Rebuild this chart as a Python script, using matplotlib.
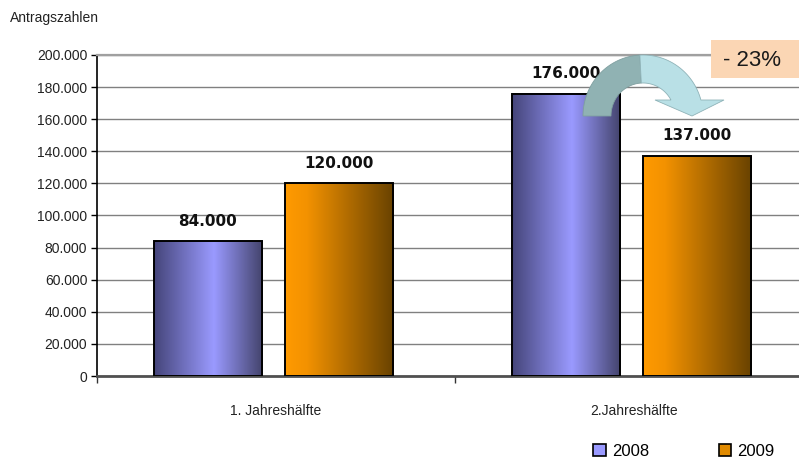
import numpy as np
import matplotlib
matplotlib.use("Agg")
import matplotlib.pyplot as plt
from matplotlib.colors import LinearSegmentedColormap
from matplotlib.patches import Polygon, Rectangle, Patch

categories = ["1. Jahreshälfte", "2.Jahreshälfte"]
series_names = ["2008", "2009"]
values_2008 = [84000, 176000]
values_2009 = [120000, 137000]
y_ticks = [0, 20000, 40000, 60000, 80000, 100000, 120000, 140000, 160000, 180000, 200000]
change_label = "- 23%"
y_title = "Antragszahlen"

plt.rcParams['font.family'] = ['Liberation Sans', 'DejaVu Sans']

def de_fmt(v):
    return f"{v:,.0f}".replace(",", ".")

fig = plt.figure(figsize=(7.99, 4.61), dpi=100)
W, H = 799, 461
ax = fig.add_axes([97 / W, 1 - 376 / H, 1 - 97 / W, (376 - 55) / H])

x = np.arange(len(categories))
bw = 0.302
b1 = ax.bar(x - 0.19, values_2008, bw, edgecolor='black', linewidth=1.4, zorder=3)
b2 = ax.bar(x + 0.175, values_2009, bw, edgecolor='black', linewidth=1.4, zorder=3)

blue_cmap = LinearSegmentedColormap.from_list('b', [(0, '#45457a'), (0.55, '#9a9aff'), (1, '#43436c')])
orange_cmap = LinearSegmentedColormap.from_list('o', [(0, '#ff9a00'), (0.2, '#f39200'), (1, '#684200')])
grad = np.linspace(0, 1, 256).reshape(1, -1)
for bars, cmap in ((b1, blue_cmap), (b2, orange_cmap)):
    for p in bars:
        x0, y0, w, h = p.get_x(), p.get_y(), p.get_width(), p.get_height()
        ax.imshow(grad, extent=[x0, x0 + w, y0, y0 + h], aspect='auto', cmap=cmap,
                  zorder=2.5, interpolation='bilinear')
        p.set_facecolor('none')
        ax.annotate(de_fmt(h), (x0 + w / 2, h), xytext=(0, 14.5), textcoords='offset points',
                    ha='center', va='center', fontsize=11, fontweight='bold', color='#111111',
                    family=['DejaVu Sans'])

ax.set_yticks(y_ticks)
ax.set_yticklabels([de_fmt(v) for v in y_ticks], fontsize=10, color='#222222')
ax.set_xticks(x)
ax.set_xticklabels(categories, fontsize=10, color='#222222')
ax.set_xticks([-0.5, 0.5, 1.5], minor=True)
ax.set_xlim(-0.5, -0.5 + (W - 97) / 358)
ax.set_ylim(0, 200000)
ax.tick_params(axis='x', which='major', length=0, pad=20)
ax.tick_params(axis='x', which='minor', length=5, width=1, color='#333333', direction='out')
ax.tick_params(axis='y', length=4, width=1, direction='out', pad=3)
ax.yaxis.grid(True, color='#808080', linewidth=1)
ax.set_axisbelow(True)
ax.spines['right'].set_visible(False)
ax.spines['top'].set_color('#a0a0a0')
ax.spines['top'].set_linewidth(1.6)
ax.spines['left'].set_color('black')
ax.spines['left'].set_linewidth(1.2)
ax.spines['bottom'].set_color('#505050')
ax.spines['bottom'].set_linewidth(2)

fig.text(10 / W, 1 - 18 / H, y_title, ha='left', va='center', fontsize=10, color='#222222')

# overlay for the curved arrow and percentage box
ov = fig.add_axes([0, 0, 1, 1], zorder=5)
ov.set_xlim(0, W)
ov.set_ylim(H, 0)
ov.axis('off')
ov.patch.set_visible(False)

cx, cy = 643, 116
rxo, ryo, rxi, ryi = 60, 61, 32, 33

def arc_piece(a0, a1, n=60):
    t = np.radians(np.linspace(a0, a1, n))
    outer = np.c_[cx + rxo * np.cos(t), cy - ryo * np.sin(t)]
    ti = t[::-1]
    inner = np.c_[cx + rxi * np.cos(ti), cy - ryi * np.sin(ti)]
    return np.vstack([outer, inner])

ov.add_patch(Polygon(arc_piece(180, 93), closed=True, facecolor='#90b2b3', edgecolor='#7f9fa0', linewidth=0.6))
end_o = np.degrees(np.arcsin((cy - 100) / ryo))
end_i = np.degrees(np.arcsin((cy - 100) / ryi))
t_o = np.radians(np.linspace(93, end_o, 60))
t_i = np.radians(np.linspace(end_i, 93, 60))
right_poly = np.vstack([np.c_[cx + rxo * np.cos(t_o), cy - ryo * np.sin(t_o)],
                        [[724, 100], [692, 116], [655, 100]],
                        np.c_[cx + rxi * np.cos(t_i), cy - ryi * np.sin(t_i)]])
ov.add_patch(Polygon(right_poly, closed=True, facecolor='#b9e0e6', edgecolor='#8fb3b8', linewidth=0.6))

ov.add_patch(Rectangle((711, 40), 90, 38, facecolor='#fbd6b4', edgecolor='none'))
ov.text(752, 60, change_label, ha='center', va='center', fontsize=16, color='#1a1a1a')

handles = [Patch(facecolor='#9a9aff', edgecolor='black', linewidth=1.2),
           Patch(facecolor='#e08a00', edgecolor='black', linewidth=1.2)]
fig.legend(handles, series_names, loc='center', bbox_to_anchor=(684 / W, 1 - 451 / H),
           ncol=2, frameon=False, fontsize=12, handlelength=0.75, handleheight=0.75,
           handletextpad=0.35, columnspacing=4.2, borderaxespad=0)

fig.savefig("out.png", dpi=100)
